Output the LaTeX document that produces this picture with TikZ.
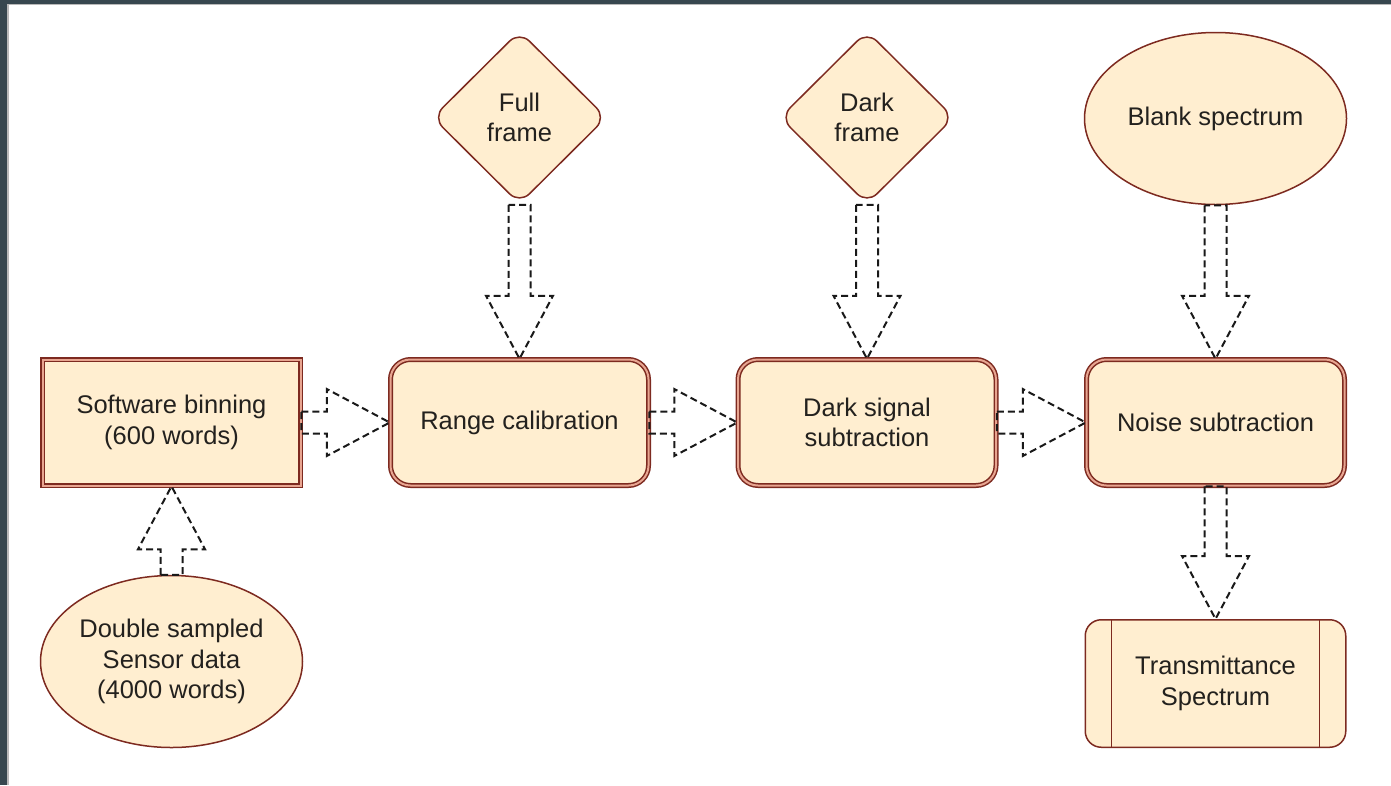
\documentclass[tikz,border=0pt]{standalone}
\usepackage{fontspec}
\setmainfont{Liberation Sans}
\usetikzlibrary{shapes.geometric,calc}
\definecolor{slate}{RGB}{55,71,79}
\definecolor{fillc}{RGB}{255,238,208}
\definecolor{bord}{RGB}{125,42,32}
\definecolor{bordin}{RGB}{232,165,145}
\definecolor{txt}{RGB}{35,33,30}
\definecolor{arrc}{RGB}{25,25,25}
\tikzset{
  base/.style={fill=fillc, text=txt, font=\fontsize{25.5}{30.5}\selectfont, align=center, inner sep=0pt},
  dbox/.style={base, rectangle, draw=bord, line width=1.5pt, double=bordin, double distance=2pt, minimum width=258pt, minimum height=126pt},
  drbox/.style={dbox, rounded corners=20pt},
  ell/.style={base, ellipse, draw=bord, line width=1.5pt, minimum width=262pt, minimum height=172pt},
  dia/.style={base, diamond, draw=bord, line width=1.5pt, rounded corners=14pt, minimum width=174pt, minimum height=173pt},
  procbox/.style={base, rectangle, draw=bord, line width=1.5pt, rounded corners=16pt, minimum width=260.5pt, minimum height=127.5pt},
  barr/.style={draw=arrc, line width=2pt, dash pattern=on 7pt off 4pt, line join=miter},
}
\newcommand\hblk[2]{%
  \draw[barr] ($(#1)+(0,-11)$) -- ($(#2)+(-63,-11)$) -- ($(#2)+(-63,-33.5)$) -- (#2)
    -- ($(#2)+(-63,33.5)$) -- ($(#2)+(-63,11)$) -- ($(#1)+(0,11)$) -- cycle;}
\newcommand\vblkdown[2]{%
  \draw[barr] ($(#1)+(-11,0)$) -- ($(#2)+(-11,-63)$) -- ($(#2)+(-33.5,-63)$) -- (#2)
    -- ($(#2)+(33.5,-63)$) -- ($(#2)+(11,-63)$) -- ($(#1)+(11,0)$) -- cycle;}
\newcommand\vblkup[2]{%
  \draw[barr] ($(#1)+(-11,0)$) -- ($(#2)+(-11,63)$) -- ($(#2)+(-33.5,63)$) -- (#2)
    -- ($(#2)+(33.5,63)$) -- ($(#2)+(11,63)$) -- ($(#1)+(11,0)$) -- cycle;}
\begin{document}
\begin{tikzpicture}[x=1pt,y=-1pt]
\useasboundingbox (0,0) rectangle (1391,785);
\fill[slate] (0,0) rectangle (1391,785);
\fill[white] (7.8,4.6) rectangle (1391,785);
\draw[gray!55, line width=1.6pt] (7.8,785) -- (7.8,4.6) -- (1391,4.6);

\node[dbox] (sb) at (171.5,422.5) {Software binning\\(600 words)};
\node[drbox] (rc) at (519.5,422.5) {Range calibration};
\node[drbox] (ds) at (867,422.5) {Dark signal\\subtraction};
\node[drbox] (ns) at (1215.5,422.5) {Noise subtraction};
\node[procbox] (ts) at (1215.5,683.5) {Transmittance\\Spectrum};
\draw[bord, line width=1.5pt] ($(ts.north west)+(27,0)$) -- ($(ts.south west)+(27,0)$);
\draw[bord, line width=1.5pt] ($(ts.north east)+(-27,0)$) -- ($(ts.south east)+(-27,0)$);
\node[ell] (dsd) at (171.5,661.5) {Double sampled\\Sensor data\\(4000 words)};
\node[ell] (bs) at (1215.5,118.5) {Blank spectrum};
\node[dia] (ff) at (519.5,117.5) {Full\\frame};
\node[dia] (df) at (867,117.5) {Dark\\frame};

\hblk{sb.east}{rc.west}
\hblk{rc.east}{ds.west}
\hblk{ds.east}{ns.west}
\vblkdown{ff.south}{rc.north}
\vblkdown{df.south}{ds.north}
\vblkdown{bs.south}{ns.north}
\vblkdown{ns.south}{ts.north}
\vblkup{dsd.north}{sb.south}
\end{tikzpicture}
\end{document}
